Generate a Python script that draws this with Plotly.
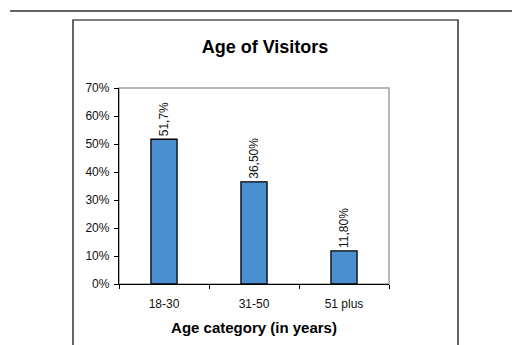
import plotly.graph_objects as go

# Visitor age breakdown
categories = ["18-30", "31-50", "51 plus"]
shares = [0.517, 0.365, 0.118]
label_decimals = [1, 2, 2]
y_ticks = [0, 0.1, 0.2, 0.3, 0.4, 0.5, 0.6, 0.7]
y_tick_text = ["0%", "10%", "20%", "30%", "40%", "50%", "60%", "70%"]

W, H = 512, 345
L, R, T, B = 119, 389, 88, 284  # plot area in pixels


def px(x):
    return (x - L) / (R - L)


def py(y):
    return (B - y) / (B - T)


labels = [
    f"{v * 100:.{d}f}%".replace(".", ",") for v, d in zip(shares, label_decimals)
]

font = "Liberation Sans, Arial, sans-serif"

fig = go.Figure(
    go.Bar(
        x=categories,
        y=shares,
        width=0.29,
        marker=dict(color="#4A8FCF", line=dict(color="#000000", width=1.3)),
        text=labels,
        textposition="outside",
        textangle=-90,
        constraintext="none",
        cliponaxis=False,
        textfont=dict(family=font, size=12, color="#111111"),
    )
)

fig.update_layout(
    width=W,
    height=H,
    margin=dict(l=L, r=W - R, t=T, b=H - B),
    paper_bgcolor="white",
    plot_bgcolor="white",
    showlegend=False,
    font=dict(family=font, color="#111111"),
    title=dict(
        text="<b>Age of Visitors</b>",
        x=px(265),
        xref="paper",
        xanchor="center",
        y=1 - 47 / H,
        yanchor="middle",
        font=dict(size=18, color="#000000"),
    ),
    xaxis=dict(
        type="category",
        showline=True,
        linecolor="#000000",
        linewidth=1.3,
        ticks="outside",
        tickson="boundaries",
        ticklen=4,
        tickcolor="#000000",
        tickfont=dict(size=12),
        ticklabelstandoff=8,
        title=dict(
            text="<b>Age category (in years)</b>",
            font=dict(size=15, color="#000000"),
            standoff=12,
        ),
        showgrid=False,
    ),
    yaxis=dict(
        range=[0, 0.7],
        tickvals=y_ticks,
        ticktext=y_tick_text,
        showline=True,
        linecolor="#000000",
        linewidth=1.3,
        ticks="outside",
        ticklen=4,
        tickcolor="#000000",
        tickfont=dict(size=12),
        ticklabelstandoff=2,
        showgrid=False,
        zeroline=False,
    ),
    shapes=[
        # rule across the top of the page
        dict(type="line", xref="paper", yref="paper",
             x0=px(10), x1=px(512), y0=py(11), y1=py(11),
             line=dict(color="#333333", width=1.5)),
        # chart frame
        dict(type="rect", xref="paper", yref="paper",
             x0=px(73), x1=px(458), y0=py(360), y1=py(20),
             line=dict(color="#000000", width=1.2)),
        # plot area border
        dict(type="rect", xref="paper", yref="paper", layer="below",
             x0=0, x1=1, y0=0, y1=1,
             line=dict(color="#A0A0A0", width=1.5)),
    ],
)

fig.write_html("out.html")
